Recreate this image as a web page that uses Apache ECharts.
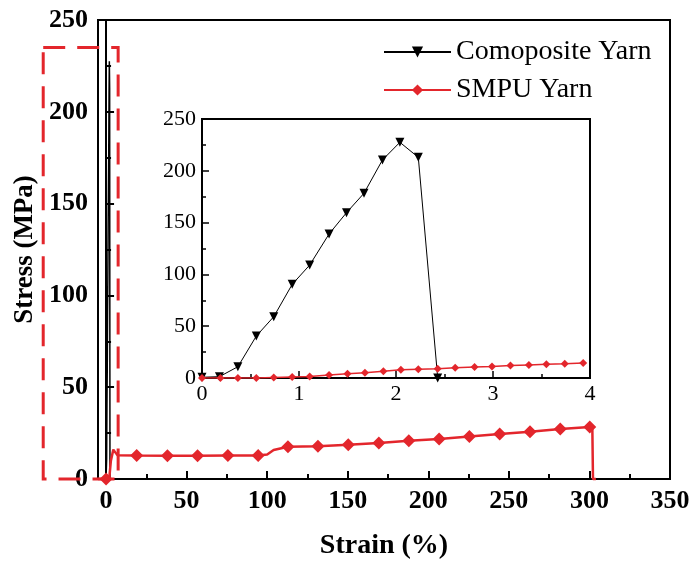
<!DOCTYPE html>
<html>
<head>
<meta charset="utf-8">
<script src="https://cdn.jsdelivr.net/npm/echarts@6/dist/echarts.min.js"></script>
<style>
  html, body { margin: 0; padding: 0; background: #fff; }
  #chart { width: 694px; height: 564px; }
</style>
</head>
<body>
<div id="chart"></div>
<script>
// composite yarn (inset resolution)
const compStrain = [0, 0.18, 0.37, 0.56, 0.74, 0.93, 1.11, 1.31, 1.49, 1.67, 1.86, 2.04, 2.23, 2.43]
const compStress = [0.7, 1.3, 10.9, 40.5, 59.2, 90.4, 109, 139, 159.6, 178.3, 210.4, 227.5, 213, 0]

// SMPU yarn, full curve
const smpuStrain = [-5, 0, 2, 3, 4.5, 7, 19, 38.1, 56.8, 75.6, 94.4, 100, 104, 112.9, 131.5, 150.3, 169.3, 187.9, 206.7, 225.5, 244.3, 263.1, 281.9, 300.2, 301.8, 302.2, 304]
const smpuStress = [0, 0, 0.5, 10, 16, 13, 12.8, 12.7, 12.7, 12.8, 12.8, 13.3, 15.8, 17.6, 17.9, 18.6, 19.6, 20.8, 21.8, 23.2, 24.5, 25.8, 27.2, 28.3, 27.8, 0, 0]
const smpuMarks = [1, 6, 7, 8, 9, 10, 13, 14, 15, 16, 17, 18, 19, 20, 21, 22, 23]

// SMPU yarn, first 4 %
const smpuInStrain = [0, 0.19, 0.37, 0.56, 0.74, 0.93, 1.11, 1.31, 1.5, 1.68, 1.87, 2.05, 2.23, 2.43, 2.61, 2.81, 2.99, 3.18, 3.37, 3.55, 3.74, 3.93]
const smpuInStress = [0, 0, 0, 0, 0.5, 1, 1.5, 3, 4, 5, 6.5, 8, 8.5, 9, 9.8, 10.6, 11.2, 12, 12.6, 13.2, 13.8, 14.5]

const mainXTicks = [0, 50, 100, 150, 200, 250, 300, 350]
const mainXMinor = [25, 75, 125, 175, 225, 275, 325]

const RED = '#e3262c'
const FONT = '"Liberation Serif", "Times New Roman", serif'

const pair = (xs, ys) => xs.map((x, i) => [x, ys[i]])

const option = {
  animation: false,
  legend: {
    left: 378,
    top: 33,
    orient: 'vertical',
    itemWidth: 67,
    itemHeight: 14,
    itemGap: 10,
    textStyle: { fontFamily: FONT, fontSize: 28, color: '#000' },
    data: ['Comoposite Yarn', 'SMPU Yarn']
  },
  grid: [
    { left: 98, right: 24, top: 20, bottom: 85, show: true, borderColor: '#000', borderWidth: 2, outerBoundsMode: 'none' },
    { left: 202, right: 104, top: 119, bottom: 186, show: true, borderColor: '#000', borderWidth: 2, z: 5, outerBoundsMode: 'none' }
  ],
  xAxis: [
    {
      gridIndex: 0, type: 'value', min: -5, max: 350,
      name: 'Strain (%)', nameLocation: 'middle', nameGap: 53,
      nameTextStyle: { fontFamily: FONT, fontSize: 28, fontWeight: 'bold', color: '#000' },
      axisLine: { lineStyle: { color: '#000', width: 2 } },
      axisTick: { inside: true, length: 8, lineStyle: { width: 2 }, customValues: mainXTicks },
      axisLabel: { customValues: mainXTicks, margin: 9, fontFamily: FONT, fontSize: 26, fontWeight: 'bold', color: '#000' },
      splitLine: { show: false }
    },
    {
      gridIndex: 0, type: 'value', min: -5, max: 350, position: 'bottom',
      axisLine: { show: false },
      axisTick: { inside: true, length: 5, lineStyle: { width: 2, color: '#000' }, customValues: mainXMinor },
      axisLabel: { show: false },
      splitLine: { show: false }
    },
    {
      gridIndex: 1, type: 'value', min: 0, max: 4, interval: 1,
      axisLine: { lineStyle: { color: '#000', width: 2 } },
      axisTick: { inside: true, length: 7, lineStyle: { width: 1.5 } },
      minorTick: { show: true, splitNumber: 2, length: 4, lineStyle: { color: '#000', width: 1.5 } },
      axisLabel: { margin: 5, fontFamily: FONT, fontSize: 22, color: '#000' },
      splitLine: { show: false }
    }
  ],
  yAxis: [
    {
      gridIndex: 0, type: 'value', min: 0, max: 250, interval: 50,
      name: 'Stress (MPa)', nameLocation: 'middle', nameGap: 54,
      nameTextStyle: { fontFamily: FONT, fontSize: 27, fontWeight: 'bold', color: '#000' },
      axisLine: { lineStyle: { color: '#000', width: 2 } },
      axisTick: { inside: true, length: 8, lineStyle: { width: 2 } },
      minorTick: { show: true, splitNumber: 2, length: 5, lineStyle: { color: '#000', width: 2 } },
      axisLabel: { margin: 10, fontFamily: FONT, fontSize: 26, fontWeight: 'bold', color: '#000' },
      splitLine: { show: false }
    },
    {
      gridIndex: 1, type: 'value', min: 0, max: 250, interval: 50,
      axisLine: { lineStyle: { color: '#000', width: 2 } },
      axisTick: { inside: true, length: 7, lineStyle: { width: 1.5 } },
      minorTick: { show: true, splitNumber: 2, length: 4, lineStyle: { color: '#000', width: 1.5 } },
      axisLabel: { margin: 6, fontFamily: FONT, fontSize: 22, color: '#000' },
      splitLine: { show: false }
    }
  ],
  series: [
    {
      name: 'Comoposite Yarn', type: 'line', xAxisIndex: 0, yAxisIndex: 0,
      data: pair(compStrain, compStress),
      symbol: 'triangle', symbolRotate: 180, symbolSize: 9, showSymbol: false,
      lineStyle: { color: '#000', width: 1.5 }, itemStyle: { color: '#000' }
    },
    {
      name: 'SMPU Yarn', type: 'line', xAxisIndex: 0, yAxisIndex: 0, clip: false,
      symbol: 'diamond',
      data: pair(smpuStrain, smpuStress).map((p, i) => ({
        value: p, symbol: smpuMarks.includes(i) ? 'diamond' : 'none'
      })),
      symbolSize: 13,
      lineStyle: { color: RED, width: 2.5 }, itemStyle: { color: RED }
    },
    {
      name: 'Comoposite Yarn', type: 'line', xAxisIndex: 2, yAxisIndex: 1, z: 6,
      data: pair(compStrain, compStress),
      symbol: 'triangle', symbolRotate: 180, symbolSize: 9,
      lineStyle: { color: '#000', width: 1 }, itemStyle: { color: '#000' }
    },
    {
      name: 'SMPU Yarn', type: 'line', xAxisIndex: 2, yAxisIndex: 1, z: 6,
      data: pair(smpuInStrain, smpuInStress),
      symbol: 'diamond', symbolSize: 8,
      lineStyle: { color: RED, width: 1.5 }, itemStyle: { color: RED }
    }
  ]
}

const myChart = echarts.init(document.getElementById('chart'))
myChart.setOption(option)

// red dashed box marking the zoomed region
const p1 = myChart.convertToPixel({ xAxisIndex: 0, yAxisIndex: 0 }, [-39, 235])
const p2 = myChart.convertToPixel({ xAxisIndex: 0, yAxisIndex: 0 }, [7.5, 0])
myChart.setOption({
  graphic: [{
    type: 'rect', z: 100,
    shape: { x: p1[0], y: p1[1], width: p2[0] - p1[0], height: p2[1] - p1[1] },
    style: { fill: 'none', stroke: RED, lineWidth: 3, lineDash: [22, 12] }
  }]
})
</script>
</body>
</html>
